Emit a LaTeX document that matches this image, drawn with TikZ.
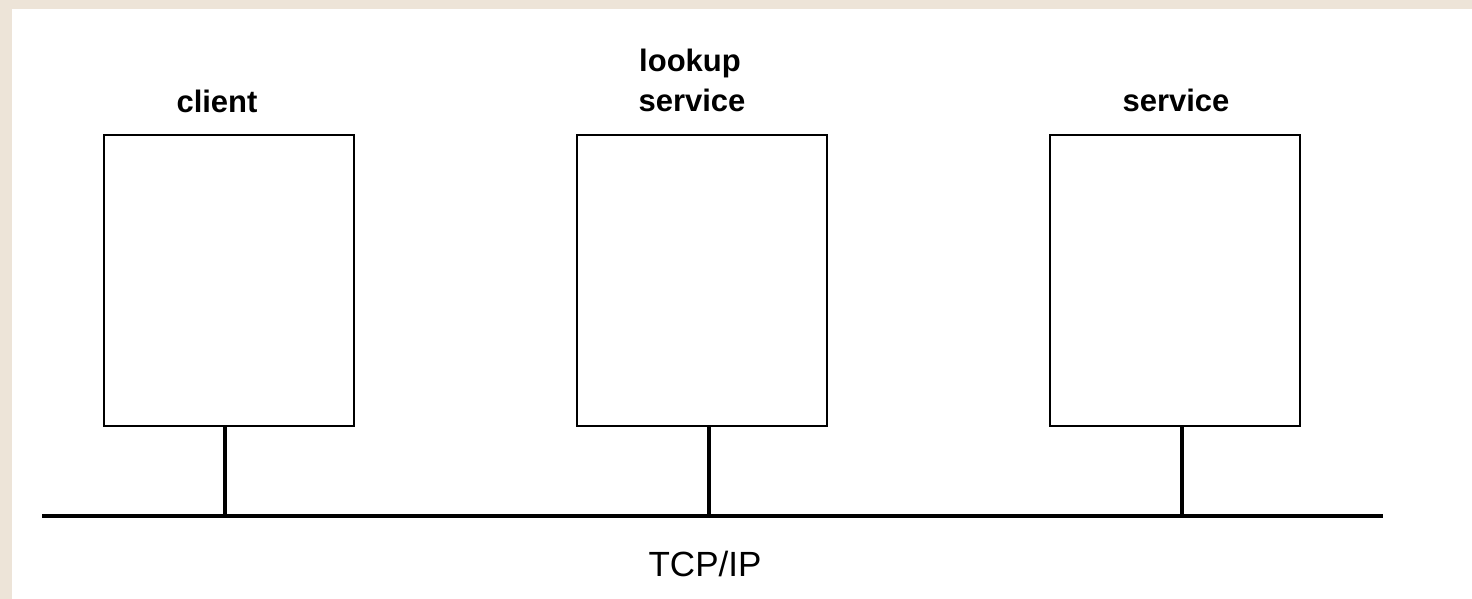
\documentclass[tikz,border=0pt]{standalone}
\usepackage{fontspec}
\setmainfont{Liberation Sans}
\definecolor{paper}{HTML}{EDE4D8}
\begin{document}
\begin{tikzpicture}[x=1pt,y=-1pt,
  box/.style={draw=black,line width=2pt,fill=white,minimum width=250pt,minimum height=291pt,inner sep=0pt,outer sep=0pt},
  lbl/.style={font=\fontsize{31}{40}\selectfont\bfseries,anchor=base,inner sep=0pt},
  drop/.style={line width=3.5pt},
  bus/.style={line width=4pt}]
\fill[paper] (0,0) rectangle (1472,599);
\fill[white] (12,9) rectangle (1472,599);
\useasboundingbox (0,0) rectangle (1472,599);
\node[box] (client) at (229,280.5) {};
\node[box] (lookup) at (702,280.5) {};
\node[box] (service) at (1175,280.5) {};
\node[lbl] (tclient) at (217,113) {client};
\node[lbl] (tlookup1) at (690,72) {lookup};
\node[lbl] (tlookup2) at (692,112) {service};
\node[lbl] (tservice) at (1176,112) {service};
\node[font=\fontsize{35}{40}\selectfont,anchor=base,inner sep=0pt] (tcp) at (705,576) {TCP/IP};
\coordinate (busL) at (42,516);
\coordinate (busR) at (1383,516);
\coordinate (b1) at (225,516);
\coordinate (b2) at (709,516);
\coordinate (b3) at (1182,516);
\draw[bus] (busL) -- (busR);
\draw[drop] (client.south -| b1) -- (b1);
\draw[drop] (lookup.south -| b2) -- (b2);
\draw[drop] (service.south -| b3) -- (b3);
\end{tikzpicture}
\end{document}
